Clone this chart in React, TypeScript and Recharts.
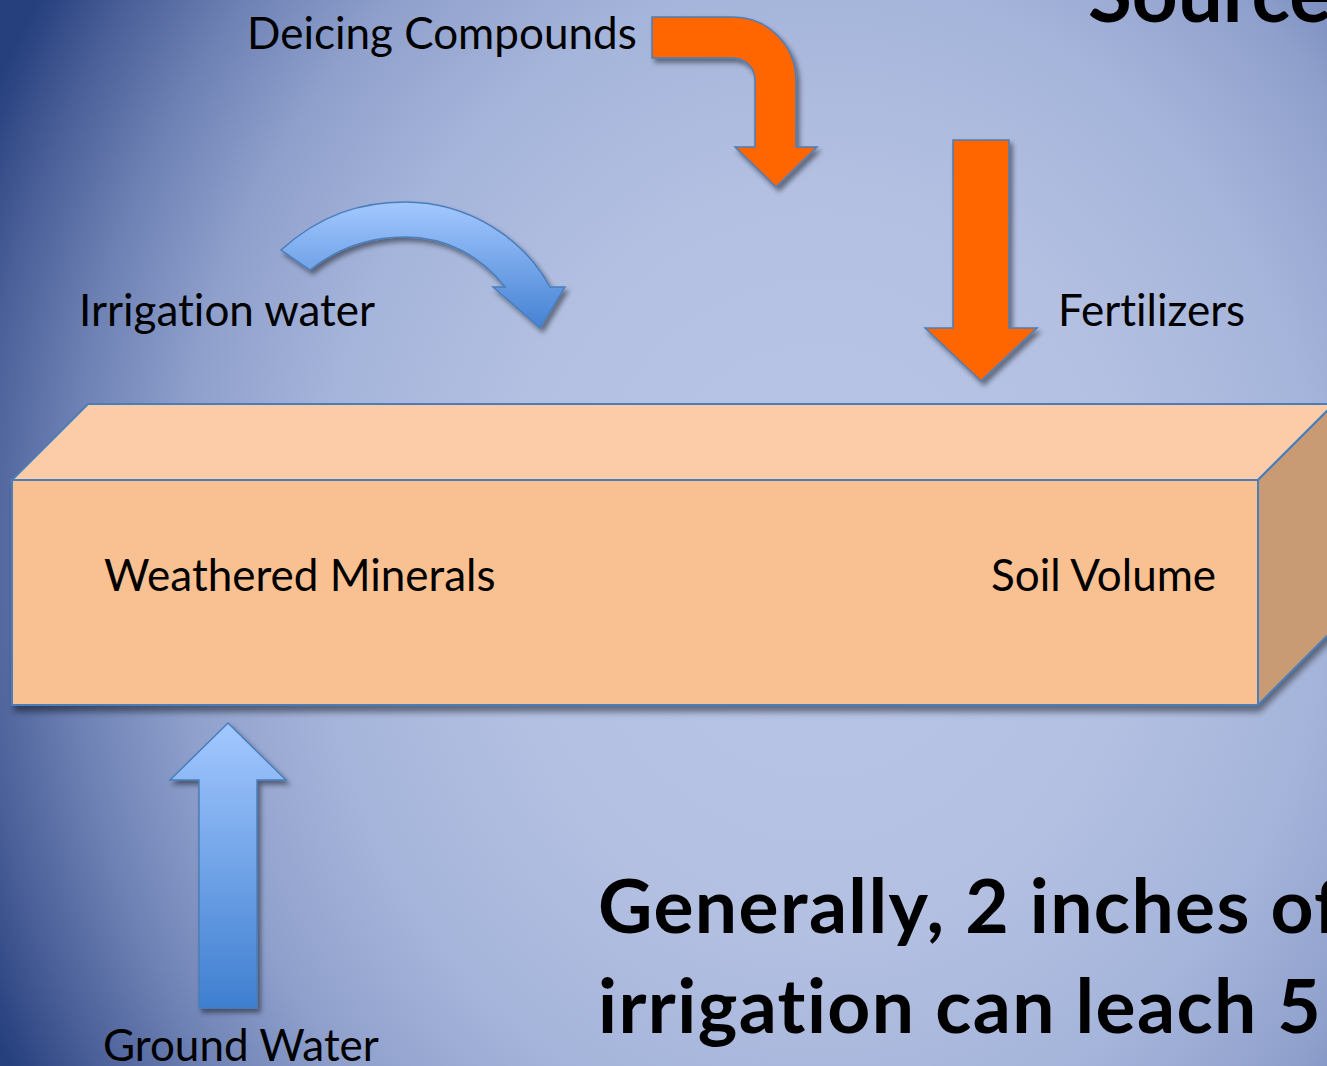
import { ScatterChart, Scatter, XAxis, YAxis } from "recharts"

const WIDTH = 1327
const HEIGHT = 1066

// small labels (left x, baseline y in slide pixels)
const labelNames = ["Deicing Compounds", "Irrigation water", "Fertilizers", "Weathered Minerals", "Soil Volume", "Ground Water"]
const labelX = [247, 79, 1058, 104, 991, 103]
const labelY = [49, 326, 326, 591, 591, 1061]

// big bold note, runs off the right edge of the slide
const noteLines = ["Generally, 2 inches of", "irrigation can leach 5"]
const noteX = [598, 598]
const noteY = [933, 1033]

// slide title, mostly cut off at the top
const titleText = ["Sources"]
const titleX = [1088]
const titleY = [22]

// soil volume box, front face corners
const boxX = [12, 1258]
const boxY = [480, 705]

// arrow tips
const arrowNames = ["deicing", "irrigation", "fertilizer", "groundwater"]
const arrowTipX = [776, 540, 981, 228]
const arrowTipY = [187, 328, 381, 723]

const FONT = "Lato, 'Open Sans', sans-serif"
const OUTLINE = "#4a7ebb"

const backgroundData = [{ x: 0, y: 0 }]
const boxData = [{ x: boxX[0], y: boxY[0], x2: boxX[1], y2: boxY[1] }]
const arrowData = arrowNames.map((name, i) => ({ name, x: arrowTipX[i], y: arrowTipY[i] }))
const labelData = labelNames.map((name, i) => ({ name, x: labelX[i], y: labelY[i] }))
const noteData = noteLines.map((name, i) => ({ name, x: noteX[i], y: noteY[i] }))
const titleData = titleText.map((name, i) => ({ name, x: titleX[i], y: titleY[i] }))

// arrow outlines relative to the tip
const arrowPaths: Record<string, string> = {
  deicing:
    "M-124,-170 L-43,-170 A63,63 0 0 1 20,-107 L20,-40 L41,-40 L0,0 L-41,-40 L-21,-40 L-21,-107 A22,22 0 0 0 -43,-129 L-124,-129 Z",
  irrigation:
    "M-259,-78 C-220,-113 -180,-126 -135,-126 C-70,-126 -15,-88 10,-41 L25,-41 L0,0 L-47,-41 L-35,-41 C-60,-73 -95,-91 -135,-91 C-175,-91 -205,-78 -230,-58 Z",
  fertilizer: "M-28,-241 L28,-241 L28,-53 L56,-53 L0,0 L-56,-53 L-28,-53 Z",
  groundwater: "M0,0 L58,57 L29,57 L29,285 L-29,285 L-29,57 L-58,57 Z",
}
const arrowFill: Record<string, string> = {
  deicing: "#ff6600",
  irrigation: "url(#blueCurve)",
  fertilizer: "#ff6600",
  groundwater: "url(#blueUp)",
}

const textStyle = { fontVariantLigatures: "none" as const }

const Background = (props: any) => {
  const { cx, cy } = props
  const gx = cx + 820
  const gy = cy + 560
  return (
    <g>
      <defs>
        <radialGradient
          id="slideBg"
          gradientUnits="userSpaceOnUse"
          cx={0}
          cy={0}
          r={1}
          gradientTransform={`translate(${gx},${gy}) scale(920,1060)`}
        >
          <stop offset="0" stopColor="#b8c5e5" />
          <stop offset="0.35" stopColor="#b3c0e2" />
          <stop offset="0.55" stopColor="#a5b4da" />
          <stop offset="0.7" stopColor="#8fa0cc" />
          <stop offset="0.82" stopColor="#6d81b4" />
          <stop offset="0.92" stopColor="#4a5f98" />
          <stop offset="1" stopColor="#26407e" />
        </radialGradient>
        <linearGradient id="blueCurve" x1="0" y1="0" x2="0" y2="1">
          <stop offset="0" stopColor="#a3c8ff" />
          <stop offset="1" stopColor="#4582d3" />
        </linearGradient>
        <linearGradient id="blueUp" x1="0" y1="0" x2="0" y2="1">
          <stop offset="0" stopColor="#a3c8ff" />
          <stop offset="1" stopColor="#3f7fd0" />
        </linearGradient>
        <filter id="shadow" x="-20%" y="-20%" width="140%" height="140%">
          <feDropShadow dx="3" dy="4" stdDeviation="2.5" floodColor="#000" floodOpacity="0.45" />
        </filter>
        <filter id="boxShadow" x="-5%" y="-10%" width="110%" height="130%">
          <feDropShadow dx="2" dy="7" stdDeviation="3" floodColor="#000" floodOpacity="0.45" />
        </filter>
      </defs>
      <rect x={cx} y={cy} width={WIDTH} height={HEIGHT} fill="url(#slideBg)" />
    </g>
  )
}

const SoilBox = (props: any) => {
  const { cx, cy, payload } = props
  const w = payload.x2 - payload.x
  const h = payload.y2 - payload.y
  const d = 76
  const r = cx + w
  const b = cy + h
  return (
    <g stroke={OUTLINE} strokeWidth={2} strokeLinejoin="round">
      <g filter="url(#boxShadow)">
        <polygon points={`${cx},${cy} ${r},${cy} ${r + d},${cy - d} ${r + d},${b - d} ${r},${b} ${cx},${b}`} fill="#f9c091" stroke="none" />
      </g>
      <polygon points={`${cx},${cy} ${cx + d},${cy - d} ${r + d},${cy - d} ${r},${cy}`} fill="#fbcca7" />
      <polygon points={`${r},${cy} ${r + d},${cy - d} ${r + d},${b - d} ${r},${b}`} fill="#c99b75" />
      <rect x={cx} y={cy} width={w} height={h} fill="#f9c091" />
    </g>
  )
}

const Arrow = (props: any) => {
  const { cx, cy, payload } = props
  return (
    <path
      d={arrowPaths[payload.name]}
      transform={`translate(${cx},${cy})`}
      fill={arrowFill[payload.name]}
      stroke={OUTLINE}
      strokeWidth={1.5}
      filter="url(#shadow)"
    />
  )
}

const Label = (props: any) => (
  <text x={props.cx} y={props.cy} fontFamily={FONT} fontSize={44} fill="#000" style={textStyle}>
    {props.payload.name}
  </text>
)

const Note = (props: any) => (
  <text
    x={props.cx}
    y={props.cy}
    fontFamily={FONT}
    fontSize={75}
    fontWeight={700}
    letterSpacing={1.4}
    fill="#000"
    style={textStyle}
  >
    {props.payload.name}
  </text>
)

const Title = (props: any) => (
  <text x={props.cx} y={props.cy} fontFamily={FONT} fontSize={80} fontWeight={700} fill="#000" style={textStyle}>
    {props.payload.name}
  </text>
)

export default function App() {
  return (
    <div style={{ position: "absolute", left: 0, top: 0, width: WIDTH, height: HEIGHT, overflow: "hidden" }}>
      <ScatterChart width={WIDTH} height={HEIGHT} margin={{ top: 0, right: 0, bottom: 0, left: 0 }}>
        <XAxis type="number" dataKey="x" domain={[0, WIDTH]} hide allowDataOverflow />
        <YAxis type="number" dataKey="y" domain={[0, HEIGHT]} reversed hide allowDataOverflow />
        <Scatter data={backgroundData} shape={Background} isAnimationActive={false} />
        <Scatter data={boxData} shape={SoilBox} isAnimationActive={false} />
        <Scatter data={arrowData} shape={Arrow} isAnimationActive={false} />
        <Scatter data={labelData} shape={Label} isAnimationActive={false} />
        <Scatter data={noteData} shape={Note} isAnimationActive={false} />
        <Scatter data={titleData} shape={Title} isAnimationActive={false} />
      </ScatterChart>
    </div>
  )
}
